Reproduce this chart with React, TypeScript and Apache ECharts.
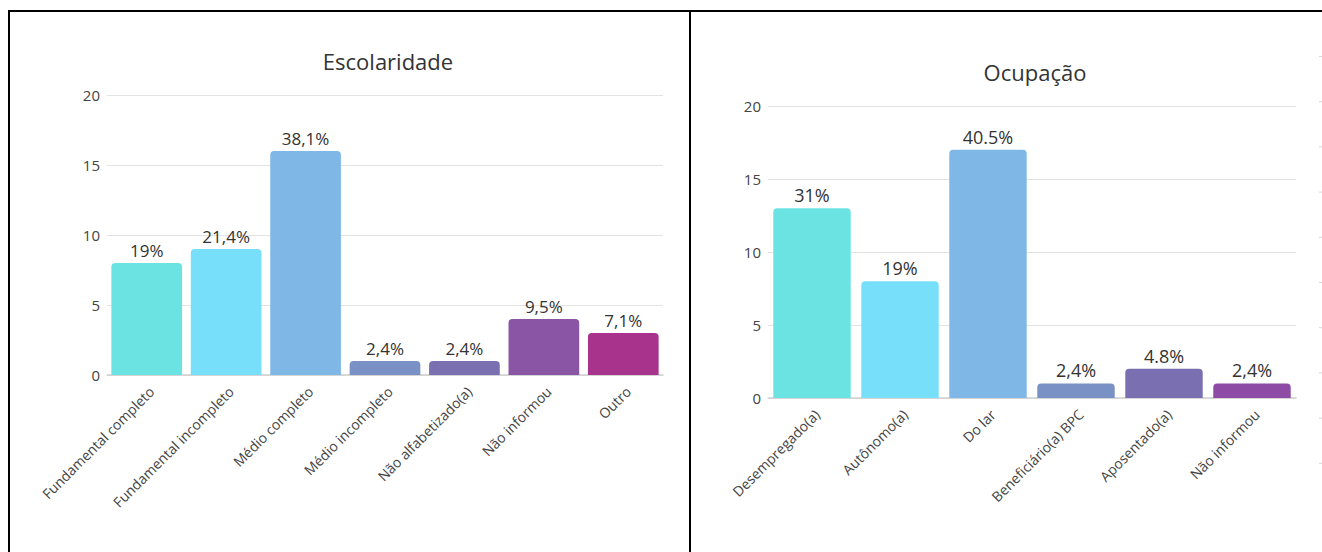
import React, { useEffect, useRef } from "react";
import * as echarts from "echarts";

const escCategories = [
  "Fundamental completo",
  "Fundamental incompleto",
  "Médio completo",
  "Médio incompleto",
  "Não alfabetizado(a)",
  "Não informou",
  "Outro",
];
const escValues = [8, 9, 16, 1, 1, 4, 3];
const escLabels = ["19%", "21,4%", "38,1%", "2,4%", "2,4%", "9,5%", "7,1%"];
const escColors = ["#6be3e3", "#78dffb", "#7fb8e6", "#7a91c6", "#7a6fb0", "#8a55a4", "#a8338c"];

const ocuCategories = [
  "Desempregado(a)",
  "Autônomo(a)",
  "Do lar",
  "Beneficiário(a) BPC",
  "Aposentado(a)",
  "Não informou",
];
const ocuValues = [13, 8, 17, 1, 2, 1];
const ocuLabels = ["31%", "19%", "40.5%", "2,4%", "4.8%", "2,4%"];
const ocuColors = ["#6be3e3", "#78dffb", "#7fb8e6", "#7a91c6", "#7a6fb0", "#8d4ba6"];

const FONT = "'Open Sans', 'Noto Sans', sans-serif";

export default function App() {
  const ref = useRef<HTMLDivElement>(null);
  useEffect(() => {
    if (!ref.current) return;
    const chart = echarts.init(ref.current, undefined, { renderer: "svg" });

    const mkData = (vals: number[], cols: string[]) =>
      vals.map((v, i) => ({ value: v, itemStyle: { color: cols[i] } }));

    const dashes: any[] = [];
    for (let k = 0; k < 10; k++) {
      dashes.push({
        type: "rect",
        shape: { x: 1319, y: 56 + k * 45.2, width: 3, height: 1 },
        style: { fill: "#d8d8d8" },
        silent: true,
      });
    }

    const yAxisCommon = {
      type: "value",
      min: 0,
      max: 20,
      interval: 5,
      axisLine: { show: false },
      axisTick: { show: false },
      axisLabel: { color: "#444", fontSize: 15, fontFamily: FONT, margin: 7 },
      splitLine: { lineStyle: { color: "#e3e3e3", width: 1 } },
    };
    const xAxisCommon = {
      type: "category",
      axisTick: { show: false },
      axisLine: { lineStyle: { color: "#cfcfcf", width: 1.5 } },
      axisLabel: {
        rotate: 45,
        color: "#444",
        fontSize: 14,
        fontFamily: FONT,
        margin: 9,
        verticalAlign: "top",
        interval: 0,
      },
    };

    chart.setOption({
      animation: false,
      backgroundColor: "#ffffff",
      title: [
        {
          text: "Escolaridade",
          left: 383,
          top: 45,
          textAlign: "center",
          textStyle: { fontFamily: FONT, fontSize: 22, fontWeight: "normal", color: "#333" },
        },
        {
          text: "Ocupação",
          left: 1030,
          top: 56,
          textAlign: "center",
          textStyle: { fontFamily: FONT, fontSize: 22, fontWeight: "normal", color: "#333" },
        },
      ],
      grid: [
        { left: 107, top: 95, width: 556, height: 280 },
        { left: 768, top: 106, width: 528, height: 292 },
      ],
      xAxis: [
        { ...xAxisCommon, gridIndex: 0, data: escCategories },
        { ...xAxisCommon, gridIndex: 1, data: ocuCategories },
      ],
      yAxis: [
        { ...yAxisCommon, gridIndex: 0 },
        { ...yAxisCommon, gridIndex: 1 },
      ],
      series: [
        {
          type: "bar",
          xAxisIndex: 0,
          yAxisIndex: 0,
          barCategoryGap: "11%",
          data: mkData(escValues, escColors),
          itemStyle: { borderRadius: [4, 4, 0, 0] },
          label: {
            show: true,
            position: "top",
            distance: 4,
            color: "#333",
            fontSize: 17,
            fontFamily: FONT,
            formatter: (p: any) => escLabels[p.dataIndex],
          },
        },
        {
          type: "bar",
          xAxisIndex: 1,
          yAxisIndex: 1,
          barCategoryGap: "12%",
          data: mkData(ocuValues, ocuColors),
          itemStyle: { borderRadius: [4, 4, 0, 0] },
          label: {
            show: true,
            position: "top",
            distance: 4,
            color: "#333",
            fontSize: 18,
            fontFamily: FONT,
            formatter: (p: any) => ocuLabels[p.dataIndex],
          },
        },
      ],
      graphic: [
        { type: "rect", shape: { x: 8, y: 10, width: 1314, height: 2 }, style: { fill: "#000" }, silent: true },
        { type: "rect", shape: { x: 8, y: 10, width: 2, height: 542 }, style: { fill: "#000" }, silent: true },
        { type: "rect", shape: { x: 689, y: 10, width: 2, height: 542 }, style: { fill: "#000" }, silent: true },
        ...dashes,
      ],
    });
    return () => chart.dispose();
  }, []);

  return (
    <div
      ref={ref}
      style={{ position: "fixed", left: 0, top: 0, width: 1322, height: 552, background: "#fff" }}
    />
  );
}
